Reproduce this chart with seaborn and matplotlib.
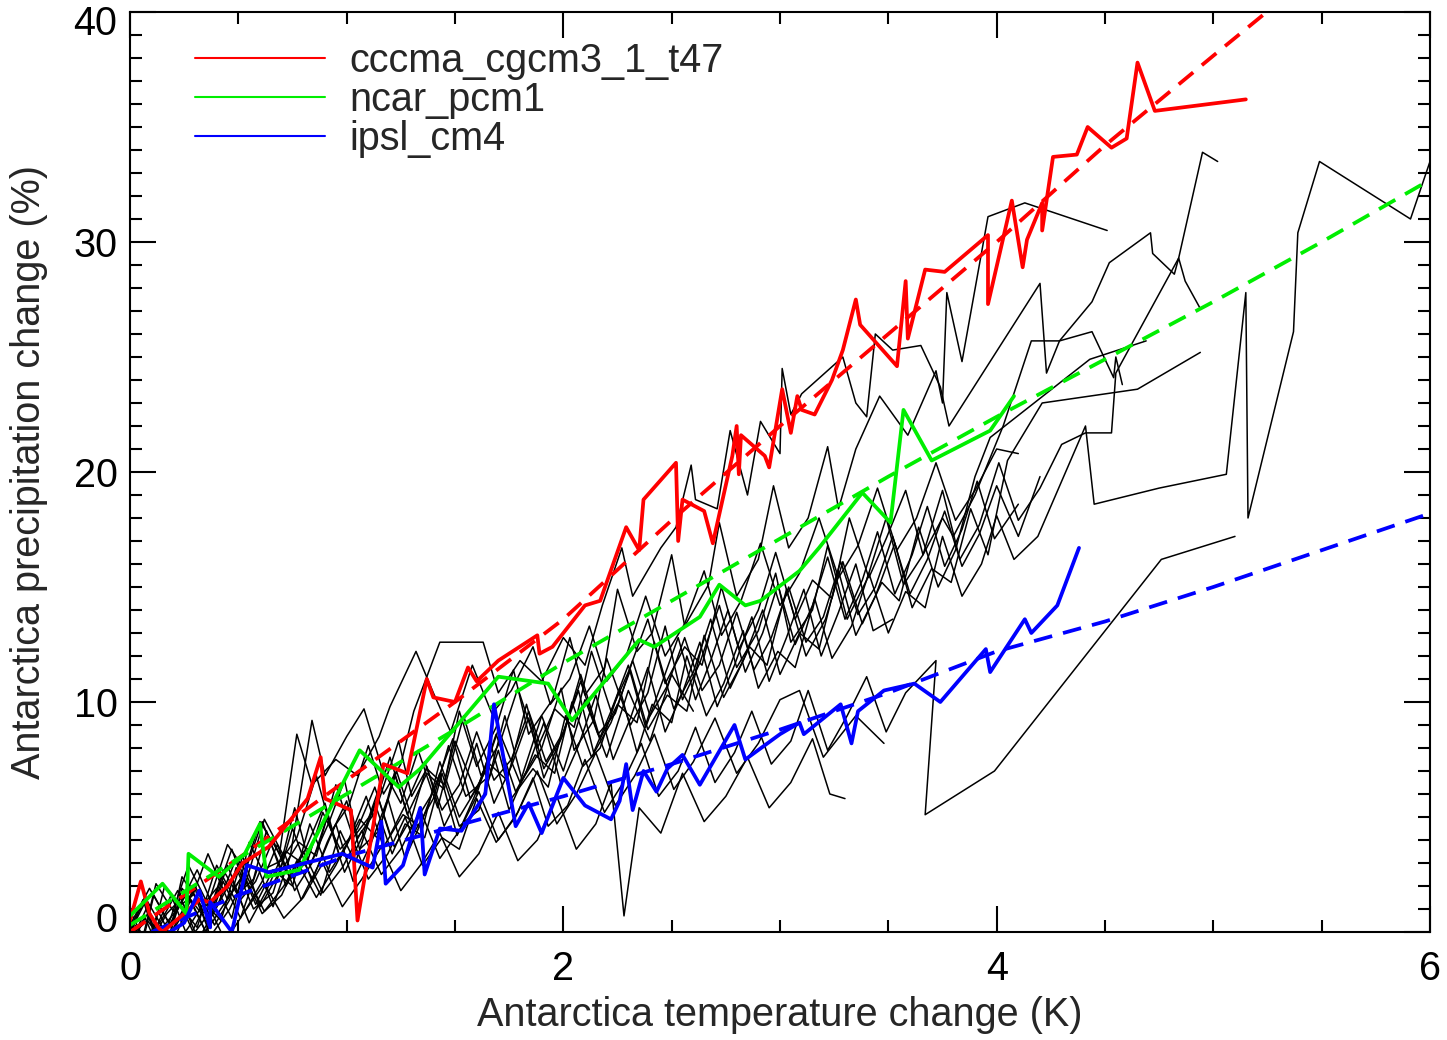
import numpy as np
import pandas as pd
import matplotlib
matplotlib.use("Agg")
import matplotlib.pyplot as plt
import matplotlib.transforms as mtransforms
from matplotlib.lines import Line2D
from matplotlib.ticker import MultipleLocator
import seaborn as sns

# ---------------- data (temperature change K, precipitation change %) ----------------
red_x = [0.00,0.05,0.09,0.13,0.15,0.25,0.32,0.37,0.45,0.52,0.64,0.82,0.88,0.90,1.02,1.05,1.17,1.28,1.37,1.40,
         1.50,1.56,1.60,1.70,1.88,1.89,1.95,2.10,2.17,2.29,2.35,2.37,2.52,2.53,2.55,2.65,2.69,2.78,2.80,2.81,
         2.82,2.93,2.95,3.01,3.05,3.08,3.10,3.16,3.24,3.29,3.35,3.37,3.54,3.58,3.59,3.67,3.76,3.96,3.96,4.07,
         4.12,4.14,4.21,4.21,4.26,4.37,4.42,4.53,4.60,4.65,4.73,5.15]
red_y = [0.5,2.2,0.8,0.2,0.0,0.8,1.4,1.3,2.0,3.0,3.7,5.8,7.6,5.8,5.3,0.5,7.3,6.9,11.0,10.2,
         10.0,11.5,10.9,11.8,12.9,12.1,12.4,14.2,14.4,17.6,16.6,18.8,20.4,17.0,18.8,18.3,16.9,20.7,22.0,19.9,
         21.6,20.7,20.2,23.6,21.7,23.3,22.7,22.5,24.0,25.3,27.5,26.4,24.6,28.3,25.8,28.8,28.7,30.3,27.3,31.8,
         28.9,30.1,31.7,30.5,33.7,33.8,35.0,34.1,34.5,37.8,35.7,36.2]

green_x = [0.00,0.15,0.26,0.27,0.41,0.53,0.60,0.63,0.78,1.06,1.24,1.34,1.70,1.93,2.04,2.35,2.42,2.63,2.72,2.84,
           2.91,3.09,3.18,3.38,3.51,3.57,3.70,3.97,4.08]
green_y = [0.7,2.1,0.8,3.4,2.4,3.4,4.7,2.4,2.7,7.9,6.3,7.1,11.1,10.8,9.2,12.7,12.4,13.7,15.1,14.2,
           14.4,15.7,16.7,19.1,17.8,22.7,20.5,21.8,23.3]

blue_x = [0.10,0.25,0.32,0.37,0.37,0.47,0.54,0.64,0.98,1.12,1.16,1.18,1.26,1.34,1.36,1.43,1.53,1.64,1.68,1.78,
          1.84,1.90,2.00,2.10,2.22,2.26,2.29,2.32,2.37,2.43,2.48,2.55,2.63,2.79,2.84,3.00,3.09,3.11,3.28,3.33,
          3.36,3.48,3.62,3.74,3.95,3.97,4.13,4.16,4.28,4.38]
blue_y = [-0.5,0.4,1.8,0.2,1.3,0.0,2.9,2.6,3.4,2.8,4.8,2.1,2.9,5.4,2.5,4.5,4.4,6.0,9.9,4.6,
          5.6,4.3,6.7,5.5,4.9,5.7,7.3,5.3,7.0,6.1,7.1,7.7,6.4,9.0,7.5,8.6,9.1,8.6,9.9,8.2,
          9.6,10.5,10.8,10.0,12.3,11.3,13.6,13.0,14.2,16.7]

# fitted (dashed) curves
red_fit_x = [0.0,0.5,1.0,1.5,2.0,2.5,3.0,3.5,4.0,4.5,5.0,5.35]
red_fit_y = [0.0,3.2,6.6,10.0,13.6,17.9,22.0,26.0,30.0,34.2,38.1,40.8]
green_fit_x = [0.0,0.5,1.0,1.5,2.0,2.5,3.0,3.5,4.0,4.5,5.0,5.5,6.0]
green_fit_y = [0.3,3.2,6.0,8.8,11.7,14.4,17.1,19.8,22.4,24.9,27.4,30.0,32.7]
blue_fit_x = [0.1,0.5,1.0,1.5,2.0,2.5,3.0,3.5,4.0,4.5,5.0,5.5,6.0]
blue_fit_y = [0.0,1.6,3.3,4.6,5.9,7.3,8.8,10.4,12.2,13.5,15.0,16.6,18.2]

# other models (black): (temperature change, precipitation change)
model_a = [(0.00,0.4),(0.05,-0.8),(0.11,1.6),(0.19,0.2),(0.24,2.4),(0.33,1.1),(0.40,1.9),(0.47,0.6),(0.55,3.9),(0.61,2.7),
           (0.70,3.1),(0.76,5.4),(0.83,2.9),(0.92,4.8),(0.99,6.6),(1.05,4.1),(1.13,5.2),(1.24,8.3),(1.30,5.9),(1.37,7.1),
           (1.45,6.4),(1.52,9.6),(1.60,7.2),(1.69,8.9),(1.77,11.4),(1.84,8.6),(1.95,10.1),(2.03,12.8),(2.10,10.3),(2.19,11.5),
           (2.25,14.9),(2.34,12.2),(2.41,13.0),(2.50,16.4),(2.56,13.3),(2.67,15.1),(2.72,17.8),(2.80,14.6),(2.90,16.2),(2.97,19.4),
           (3.04,16.7),(3.13,18.0),(3.22,21.1),(3.27,18.4),(3.35,21.0),(3.46,23.3),(3.59,21.6),(3.72,24.4),(3.75,23.0),(3.77,27.8),
           (3.84,24.8),(3.96,31.1),(4.13,31.7),(4.51,30.5)]
model_b = [(0.00,0.0),(0.07,1.5),(0.15,0.2),(0.22,1.0),(0.31,2.7),(0.38,1.2),(0.47,3.6),(0.53,2.0),(0.62,4.9),(0.71,3.3),
           (0.77,4.1),(0.86,6.8),(0.93,4.4),(1.01,5.5),(1.10,8.1),(1.17,6.0),(1.25,7.3),(1.31,9.6),(1.43,12.6),(1.63,12.6),
           (1.70,10.4),(1.80,11.8),(1.90,10.9),(2.00,12.8),(2.10,11.6),(2.18,14.2),(2.27,16.7),(2.32,14.6),(2.45,16.7),(2.52,17.6),
           (2.59,20.3),(2.61,18.8),(2.71,18.4),(2.77,21.8),(2.85,19.0),(2.91,22.2),(3.00,20.8),(3.01,24.5),(3.05,22.5),(3.10,23.4),
           (3.29,25.0),(3.35,23.0),(3.40,22.4),(3.44,26.0),(3.52,25.3),(3.65,25.5),(3.74,23.7),(3.78,22.0),(4.20,28.2),(4.23,24.3),
           (4.29,25.7),(4.44,27.4),(4.52,29.1),(4.71,30.4),(4.72,29.5),(4.82,28.6),(4.84,29.3),(4.87,28.3),(4.94,27.1)]
model_c = [(0.00,-0.5),(0.08,1.1),(0.14,-0.9),(0.23,0.7),(0.30,2.0),(0.39,0.3),(0.46,1.4),(0.52,3.3),(0.60,1.1),(0.69,2.6),
           (0.75,4.5),(0.84,2.2),(0.91,3.9),(1.00,5.7),(1.06,3.6),(1.15,4.4),(1.22,6.9),(1.31,4.3),(1.40,5.8),(1.47,8.1),
           (1.55,5.9),(1.66,6.8),(1.73,9.4),(1.81,6.6),(1.90,8.0),(1.99,10.6),(2.05,7.9),(2.14,9.2),(2.20,11.9),(2.31,9.0),
           (2.39,10.4),(2.47,13.3),(2.55,10.1),(2.63,11.7),(2.72,14.2),(2.80,11.5),(2.90,13.1),(2.98,15.6),(3.05,12.6),(3.15,14.0),
           (3.22,16.8),(3.31,13.6),(3.40,15.3),(3.49,18.0),(3.57,15.1),(3.66,16.4),(3.75,19.2),(3.83,16.2),(3.92,17.7),(4.01,20.4),
           (4.10,17.9),(4.20,19.3),(4.30,21.2),(4.41,21.7),(4.53,21.7),(4.55,24.3),(4.84,29.3),(4.95,33.9),(5.02,33.5)]
model_d = [(0.00,0.2),(0.06,-1.0),(0.13,0.4),(0.19,1.6),(0.27,-0.3),(0.35,1.2),(0.42,0.5),(0.49,2.8),(0.57,1.0),(0.66,1.7),
           (0.72,3.5),(0.81,2.9),(0.88,1.6),(0.97,4.4),(1.04,3.0),(1.13,5.6),(1.21,3.4),(1.27,4.7),(1.36,4.1),(1.44,6.9),
           (1.52,4.6),(1.61,5.3),(1.70,7.9),(1.76,5.8),(1.86,7.1),(1.93,6.3),(2.01,9.4),(2.09,7.2),(2.17,8.0),(2.26,10.6),
           (2.34,7.8),(2.41,9.9),(2.50,9.1),(2.57,12.0),(2.66,9.4),(2.74,10.8),(2.83,13.1),(2.90,10.6),(2.99,12.2),(3.07,11.5),
           (3.16,14.5),(3.24,11.9),(3.33,13.3),(3.41,15.6),(3.50,13.0),(3.58,14.8),(3.67,14.1),(3.75,17.2),(3.84,14.6),(3.93,16.0),
           (4.00,18.1),(4.08,16.2),(4.19,17.2),(4.41,22.0),(4.45,18.6),(4.75,19.3),(5.06,19.9),(5.15,27.8),(5.16,18.0),(5.37,26.1),
           (5.39,30.4),(5.49,33.5),(5.91,31.0),(6.00,33.5)]
model_e = [(0.00,0.0),(0.07,1.3),(0.14,-0.8),(0.22,0.4),(0.30,1.9),(0.37,-0.2),(0.46,1.0),(0.53,2.4),(0.61,0.8),(0.70,1.6),
           (0.77,3.1),(0.86,1.5),(0.95,2.9),(1.02,4.2),(1.10,2.3),(1.19,3.4),(1.27,5.0),(1.35,2.9),(1.44,4.1),(1.52,3.6),
           (1.60,5.8),(1.69,3.9),(1.78,5.0),(1.86,6.7),(1.93,4.6),(2.02,5.5),(2.10,7.5),(2.19,5.2),(2.27,6.4),(2.36,8.2),
           (2.44,5.9),(2.53,7.0),(2.61,8.9),(2.70,6.5),(2.79,7.8),(2.87,9.6),(2.96,7.3),(3.05,8.3),(3.13,10.5),(3.22,7.9),
           (3.31,9.4),(3.40,11.1),(3.49,8.7),(3.58,10.4),(3.72,11.8),(3.67,5.1),(3.99,7.0),(4.76,16.2),(5.10,17.2)]
model_f = [(0.00,0.6),(0.09,-0.6),(0.16,2.0),(0.25,0.9),(0.31,0.2),(0.40,2.9),(0.48,1.5),(0.57,2.3),(0.63,4.4),(0.72,2.0),
           (0.81,3.6),(0.90,5.6),(0.97,3.2),(1.06,4.9),(1.14,4.1),(1.23,7.0),(1.31,4.7),(1.40,6.1),(1.49,8.4),(1.57,5.8),
           (1.66,7.3),(1.74,6.6),(1.83,9.9),(1.91,7.1),(2.00,8.6),(2.08,11.2),(2.17,8.4),(2.25,9.9),(2.34,9.1),(2.42,12.6),
           (2.51,9.7),(2.60,11.3),(2.68,13.6),(2.77,10.6),(2.86,12.4),(2.94,11.6),(3.03,14.9),(3.12,12.0),(3.21,13.6),(3.29,16.1),
           (3.38,13.4),(3.47,15.2),(3.55,14.4),(3.64,17.6),(3.73,15.0),(3.81,16.6),(3.90,19.8),(3.97,21.5),(4.43,24.9),(4.69,25.7)]
model_g = [(0.00,-0.2),(0.08,0.5),(0.17,-0.6),(0.24,1.9),(0.33,0.8),(0.41,1.3),(0.49,3.2),(0.58,1.2),(0.66,2.7),(0.75,2.0),
           (0.83,4.7),(0.92,2.6),(1.00,3.8),(1.09,5.9),(1.17,3.7),(1.26,5.1),(1.35,4.5),(1.43,7.4),(1.52,5.0),(1.61,6.4),
           (1.69,8.6),(1.78,6.1),(1.87,7.7),(1.96,6.9),(2.04,10.0),(2.13,7.6),(2.22,9.1),(2.31,11.4),(2.39,8.8),(2.48,10.3),
           (2.57,9.6),(2.65,12.9),(2.74,10.2),(2.83,11.8),(2.92,14.0),(3.00,11.2),(3.09,13.0),(3.18,12.3),(3.27,15.7),(3.35,12.9),
           (3.44,14.6),(3.53,16.9),(3.61,14.1),(3.70,15.8),(3.79,15.2),(3.88,18.4),(3.96,16.4),(4.05,20.5),(4.21,23.0),(4.65,23.6),
           (4.94,25.2)]
model_h = [(0.00,0.9),(0.06,-0.2),(0.12,2.1),(0.20,0.9),(0.29,1.6),(0.36,3.4),(0.45,1.4),(0.53,2.6),(0.61,4.8),(0.70,2.7),
           (0.78,3.9),(0.86,3.3),(0.95,6.4),(1.03,4.1),(1.12,5.2),(1.20,7.6),(1.28,5.1),(1.37,6.9),(1.45,6.2),(1.54,9.4),
           (1.62,6.8),(1.71,8.3),(1.79,10.6),(1.88,8.0),(1.96,9.7),(2.05,8.9),(2.13,12.2),(2.22,9.6),(2.30,11.3),(2.39,13.6),
           (2.47,10.8),(2.56,12.4),(2.64,11.6),(2.73,15.0),(2.81,12.3),(2.90,14.0),(2.98,16.5),(3.07,13.6),(3.15,15.3),(3.24,14.5),
           (3.32,18.0),(3.41,15.4),(3.49,17.1),(3.58,19.2),(3.66,16.4),(3.75,18.0),(3.80,17.2),(3.90,19.0),(4.03,22.0),(4.16,25.7),
           (4.29,25.7),(4.44,26.1),(4.54,24.1),(4.55,25.0),(4.58,23.8)]
model_i = [(0.00,-0.3),(0.09,0.9),(0.18,-1.0),(0.27,0.2),(0.35,1.4),(0.44,-0.4),(0.53,0.9),(0.62,2.1),(0.71,0.6),(0.80,1.5),
           (0.89,3.0),(0.98,1.1),(1.07,2.3),(1.16,3.7),(1.25,1.8),(1.34,2.9),(1.43,4.3),(1.52,2.4),(1.61,3.4),(1.70,5.2),
           (1.79,3.1),(1.88,4.0),(1.97,5.9),(2.06,3.6),(2.15,4.7),(2.22,6.5),(2.28,0.7),(2.35,5.4),(2.45,4.3),(2.55,6.9),
           (2.65,4.8),(2.75,5.9),(2.85,7.6),(2.95,5.4),(3.05,6.5),(3.15,8.4),(3.23,6.0),(3.30,5.8)]
model_j = [(0.00,0.5),(0.08,-0.7),(0.17,0.8),(0.26,1.7),(0.35,0.0),(0.44,1.3),(0.53,2.6),(0.62,0.9),(0.71,2.0),(0.80,3.5),
           (0.89,1.7),(0.98,2.8),(1.07,4.4),(1.16,2.5),(1.25,3.6),(1.34,5.3),(1.43,3.2),(1.52,4.4),(1.61,6.1),(1.70,4.0),
           (1.79,5.2),(1.88,7.0),(1.97,4.7),(2.06,6.0),(2.15,7.8),(2.24,5.5),(2.33,6.8),(2.42,8.6),(2.51,6.2),(2.60,7.4),
           (2.70,9.3),(2.80,6.9),(2.90,8.2),(3.00,10.1),(3.09,10.5),(3.20,7.6),(3.35,9.4),(3.48,8.2)]
model_k = [(0.00,0.1),(0.06,1.4),(0.13,-0.6),(0.21,0.8),(0.28,2.0),(0.35,0.4),(0.43,2.7),(0.51,1.4),(0.58,2.2),(0.66,4.0),
           (0.74,2.3),(0.82,3.1),(0.89,5.2),(0.97,3.6),(1.05,4.5),(1.13,6.3),(1.20,4.2),(1.28,5.7),(1.36,7.4),(1.44,5.3),
           (1.52,6.4),(1.60,8.7),(1.68,6.6),(1.76,7.5),(1.84,9.6),(1.92,7.4),(2.00,8.7),(2.08,10.9),(2.16,8.6),(2.24,9.5),
           (2.32,11.8),(2.40,9.4),(2.48,10.7),(2.56,12.8),(2.64,10.5),(2.72,11.6),(2.80,13.9),(2.88,11.4),(2.96,12.8),(3.04,15.0),
           (3.12,12.6),(3.20,13.7),(3.28,16.1),(3.36,13.8),(3.44,15.0),(3.52,17.2),(3.60,14.7),(3.68,16.2),(3.76,18.3),(3.84,15.9),
           (3.92,17.3),(4.00,19.4),(4.10,17.2),(4.20,19.8)]
model_l = [(0.00,0.4),(0.07,-0.6),(0.15,0.6),(0.22,1.8),(0.30,0.0),(0.38,1.0),(0.45,2.9),(0.53,0.9),(0.61,2.2),(0.68,3.8),
           (0.76,1.8),(0.84,3.0),(0.91,5.0),(0.99,2.6),(1.07,4.1),(1.14,6.0),(1.22,3.7),(1.30,5.0),(1.37,7.2),(1.45,4.6),
           (1.53,6.1),(1.60,8.2),(1.68,5.6),(1.76,7.2),(1.84,9.3),(1.91,6.7),(1.99,8.4),(2.07,10.5),(2.14,7.8),(2.22,9.6),
           (2.30,11.6),(2.38,8.9),(2.45,10.7),(2.53,12.8),(2.61,10.1),(2.68,11.8),(2.76,14.0),(2.84,11.3),(2.92,13.0),(2.99,15.1),
           (3.07,12.5),(3.15,14.2),(3.22,16.3),(3.30,13.6),(3.38,15.3),(3.45,17.4),(3.53,14.7),(3.61,16.4),(3.68,18.5),(3.76,15.9),
           (3.84,17.5),(3.91,19.6),(3.99,17.1),(4.10,18.6)]
model_m = [(0.00,0.3),(0.09,1.9),(0.18,0.4),(0.27,2.9),(0.36,1.2),(0.45,3.8),(0.53,2.7),(0.60,4.8),(0.69,3.4),(0.77,8.6),
           (0.84,6.4),(0.95,7.5),(1.05,6.8),(1.15,8.5),(1.20,9.8),(1.32,12.2),(1.40,10.4),(1.48,8.7),(1.58,11.6),(1.67,9.5),
           (1.76,10.5),(1.86,12.4),(1.94,9.9),(2.03,11.0),(2.12,13.3),(2.20,10.9),(2.29,12.0),(2.38,14.6),(2.47,12.0),(2.56,13.4),
           (2.65,15.7),(2.73,12.9),(2.82,14.4),(2.91,16.9),(3.00,14.2),(3.09,15.6),(3.18,18.0),(3.27,15.4),(3.36,16.8),(3.45,19.3),
           (3.54,16.6),(3.63,18.0),(3.72,20.4),(3.81,17.9),(3.90,19.2),(4.00,21.0),(4.10,20.8)]
model_n = [(0.00,0.0),(0.06,-1.1),(0.13,0.9),(0.20,-0.4),(0.28,1.4),(0.35,0.0),(0.43,2.2),(0.51,0.6),(0.59,2.8),(0.66,1.1),
           (0.74,3.3),(0.84,9.2),(0.90,6.8),(1.00,8.5),(1.08,9.7),(1.16,7.2),(1.25,5.6),(1.33,7.9),(1.42,5.4),(1.50,8.3),
           (1.60,6.0),(1.70,8.8),(1.80,6.5),(1.90,9.4),(2.00,7.0),(2.10,10.1),(2.20,7.6),(2.30,10.5),(2.40,8.3),(2.50,11.2),
           (2.60,9.6)]
model_o = [(0.00,-0.6),(0.07,0.6),(0.15,-1.1),(0.23,1.3),(0.31,-0.4),(0.39,0.9),(0.47,2.3),(0.55,0.4),(0.63,1.8),(0.71,3.5),
           (0.79,1.4),(0.87,2.9),(0.95,4.7),(1.03,2.2),(1.11,3.8),(1.19,5.8),(1.27,3.2),(1.35,4.9),(1.43,6.9),(1.51,4.2),
           (1.59,5.9),(1.67,8.0),(1.75,5.3),(1.83,7.0),(1.91,9.1),(1.99,6.4),(2.07,8.1),(2.15,10.3),(2.23,7.5),(2.31,9.3),
           (2.39,11.5),(2.47,8.7),(2.55,10.4),(2.63,12.6),(2.71,9.8),(2.79,11.6),(2.87,13.7),(2.95,10.9),(3.03,12.8),(3.11,14.9),
           (3.19,12.0),(3.27,13.9),(3.35,16.0),(3.43,13.1),(3.52,13.6)]

other_models = [model_a, model_b, model_c, model_d, model_e, model_f, model_g, model_h,
                model_i, model_j, model_k, model_l, model_m, model_n, model_o]

legend_labels = ["cccma_cgcm3_1_t47", "ncar_pcm1", "ipsl_cm4"]
legend_colors = ["#ff0000", "#00ee00", "#0000ff"]

# ---------------- build tables ----------------
rows = []
for i, mdl in enumerate(other_models):
    for j, (tx, py) in enumerate(mdl):
        rows.append({"model": f"m{i}", "step": j, "dT": tx, "dP": py})
others = pd.DataFrame(rows)

# ---------------- style ----------------
sns.set_style("white")
plt.rcParams["font.family"] = ["Liberation Sans", "DejaVu Sans"]
plt.rcParams["axes.linewidth"] = 1.5

fig = plt.figure(figsize=(14.47, 10.40), dpi=100)
ax = fig.add_axes([0.08984, 0.10385, 0.89841, 0.88462])

LW_THICK = 2.7
DASH = (0, (5, 3))

sns.lineplot(data=others, x="dT", y="dP", units="model", estimator=None, sort=False,
             color="black", linewidth=1.1, legend=False, ax=ax)

for fx, fy, c in [(red_fit_x, red_fit_y, legend_colors[0]),
                  (green_fit_x, green_fit_y, legend_colors[1]),
                  (blue_fit_x, blue_fit_y, legend_colors[2])]:
    sns.lineplot(x=fx, y=fy, sort=False, estimator=None, color=c,
                 linewidth=LW_THICK, linestyle=DASH, ax=ax)

for sx, sy, c in [(red_x, red_y, legend_colors[0]),
                  (green_x, green_y, legend_colors[1]),
                  (blue_x, blue_y, legend_colors[2])]:
    sns.lineplot(x=sx, y=sy, sort=False, estimator=None, color=c,
                 linewidth=LW_THICK, ax=ax)

ax.set_xlim(0, 6)
ax.set_ylim(0, 40)
ax.xaxis.set_major_locator(MultipleLocator(2))
ax.xaxis.set_minor_locator(MultipleLocator(0.5))
ax.yaxis.set_major_locator(MultipleLocator(10))
ax.yaxis.set_minor_locator(MultipleLocator(1))

ax.tick_params(which="both", direction="in", top=True, right=True,
               bottom=True, left=True, width=1.5, colors="black")
ax.tick_params(which="major", length=18.5)
ax.tick_params(which="minor", length=8.6)
ax.tick_params(axis="x", which="major", labelsize=28.5, pad=13)
ax.tick_params(axis="y", which="major", labelsize=28.5, pad=9)

for sp in ax.spines.values():
    sp.set_visible(True)
    sp.set_color("black")
    sp.set_linewidth(1.5)

ax.set_xlabel("Antarctica temperature change (K)", fontsize=28.5, labelpad=6)
ax.set_ylabel("Antarctica precipitation change (%)", fontsize=28.5, labelpad=18)

fig.canvas.draw()
up_shift = mtransforms.ScaledTranslation(0, 7 / 100, fig.dpi_scale_trans)
for tick, loc in zip(ax.yaxis.get_major_ticks(), ax.yaxis.get_majorticklocs()):
    if abs(loc - 0) < 1e-9:
        tick.label1.set_verticalalignment("baseline")
    elif abs(loc - 40) < 1e-9:
        tick.label1.set_verticalalignment("top")
        tick.label1.set_transform(tick.label1.get_transform() + up_shift)

handles = [Line2D([], [], color=c, linewidth=1.5) for c in legend_colors]
ax.legend(handles, legend_labels, loc="upper left", bbox_to_anchor=(0.05, 0.9675),
          frameon=False, fontsize=28.5, handlelength=3.28, handletextpad=0.63,
          labelspacing=0.03, borderpad=0, borderaxespad=0)

fig.savefig("out.png", dpi=100)
